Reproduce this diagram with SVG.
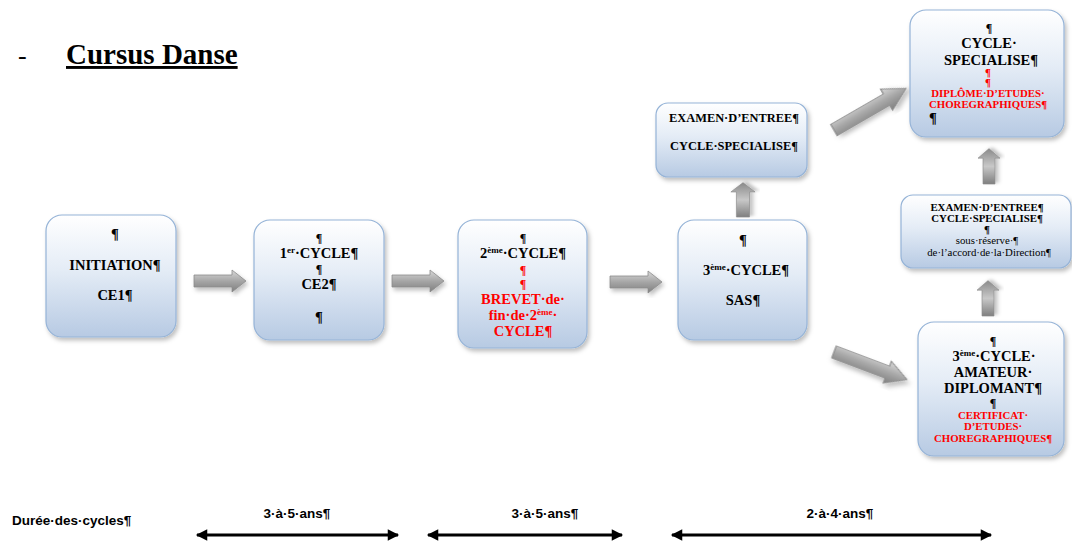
<svg xmlns="http://www.w3.org/2000/svg" width="1072" height="541" viewBox="0 0 1072 541">
<defs>
<linearGradient id="boxg" x1="0" y1="0" x2="0" y2="1">
<stop offset="0" stop-color="#ffffff"/>
<stop offset="0.45" stop-color="#e4ecf6"/>
<stop offset="1" stop-color="#b7cae3"/>
</linearGradient>
<linearGradient id="arrg" x1="0" y1="0" x2="0" y2="1">
<stop offset="0" stop-color="#d9d9d9"/>
<stop offset="0.5" stop-color="#a6a6a6"/>
<stop offset="1" stop-color="#7f7f7f"/>
</linearGradient>
<linearGradient id="arrh" x1="0" y1="0" x2="1" y2="0">
<stop offset="0" stop-color="#7f7f7f"/>
<stop offset="0.5" stop-color="#c8c8c8"/>
<stop offset="1" stop-color="#8a8a8a"/>
</linearGradient>
<filter id="sh" x="-20%" y="-20%" width="140%" height="140%">
<feDropShadow dx="2" dy="3" stdDeviation="2" flood-color="#000" flood-opacity="0.25"/>
</filter>
<marker id="mh" viewBox="0 0 10 10" refX="9" refY="5" markerWidth="4.5" markerHeight="3.8" orient="auto-start-reverse" markerUnits="strokeWidth">
<path d="M0,0 L10,5 L0,10 Z" fill="#000"/>
</marker>
<path id="barr" d="M0,-6 H38 V-11 L52,0 L38,11 V6 H0 Z"/>
</defs>
<style>
.box{fill:url(#boxg);stroke:#95b3d7;stroke-width:1.2;filter:url(#sh)}
.t{font-family:"Liberation Serif","Times New Roman",serif;font-weight:bold;font-size:14.5px;fill:#000;text-anchor:middle}
.s{font-size:12.4px}
.xs{font-size:10.8px}
.p{font-size:12px}
.n{font-weight:normal}
.r{fill:#ff0000}
.arr{stroke:#8c8c8c;stroke-width:0.8;filter:url(#sh)}
.dur{font-family:"Liberation Sans",Arial,sans-serif;font-weight:bold;font-size:13.5px;fill:#000}
.dl{stroke:#000;stroke-width:3;fill:none;marker-start:url(#mh);marker-end:url(#mh)}
</style>

<g id="title">
<text x="18" y="64" font-family="'Liberation Serif',serif" font-size="26">-</text>
<text x="66" y="64" font-family="'Liberation Serif',serif" font-weight="bold" font-size="29" text-decoration="underline">Cursus Danse</text>
</g>

<g id="connectors">
<use href="#barr" class="arr" fill="url(#arrg)" transform="translate(194,281)"/>
<use href="#barr" class="arr" fill="url(#arrg)" transform="translate(392,281)"/>
<use href="#barr" class="arr" fill="url(#arrg)" transform="translate(610,282)"/>
<use href="#barr" class="arr" fill="url(#arrh)" transform="translate(743,217) rotate(-90) scale(0.66,1.1)"/>
<use href="#barr" class="arr" fill="url(#arrh)" transform="translate(989,184) rotate(-90) scale(0.68,1)"/>
<use href="#barr" class="arr" fill="url(#arrh)" transform="translate(988,316) rotate(-90) scale(0.68,1)"/>
<use href="#barr" class="arr" fill="url(#arrg)" transform="translate(834,130) rotate(-30) scale(1.6,1.1)"/>
<use href="#barr" class="arr" fill="url(#arrg)" transform="translate(834,352) rotate(20.7) scale(1.5,1.05)"/>
</g>

<g id="n-initiation">
<rect class="box" x="46" y="215" width="130" height="122" rx="16"/>
<text class="t" x="115" y="239">¶</text>
<text class="t" x="115" y="270">INITIATION¶</text>
<text class="t" x="115" y="300">CE1¶</text>
</g>

<g id="n-cycle1">
<rect class="box" x="254" y="220" width="130" height="120" rx="16"/>
<text class="t p" x="319" y="242">¶</text>
<text class="t" x="319" y="258">1<tspan dy="-5" font-size="9">er</tspan><tspan dy="5">·CYCLE¶</tspan></text>
<text class="t p" x="319" y="273">¶</text>
<text class="t" x="319" y="289">CE2¶</text>
<text class="t" x="319" y="322">¶</text>
</g>

<g id="n-cycle2">
<rect class="box" x="458" y="220" width="129" height="128" rx="16"/>
<text class="t p" x="523" y="242">¶</text>
<text class="t" x="523" y="258">2<tspan dy="-5" font-size="9">ème</tspan><tspan dy="5">·CYCLE¶</tspan></text>
<text class="t r p" x="523" y="274">¶</text>
<text class="t r p" x="523" y="288">¶</text>
<text class="t r" x="523" y="304">BREVET·de·</text>
<text class="t r" x="523" y="320">fin·de·2<tspan dy="-5" font-size="9">ème</tspan><tspan dy="5">·</tspan></text>
<text class="t r" x="523" y="336">CYCLE¶</text>
</g>

<g id="n-cycle3">
<rect class="box" x="678" y="220" width="129" height="120" rx="16"/>
<text class="t" x="743" y="245">¶</text>
<text class="t" x="746" y="275">3<tspan dy="-5" font-size="9">ème</tspan><tspan dy="5">·CYCLE¶</tspan></text>
<text class="t" x="743" y="305">SAS¶</text>
</g>

<g id="n-examen1">
<rect class="box" x="656" y="103" width="151" height="74" rx="12"/>
<text class="t s" x="734" y="122">EXAMEN·D’ENTREE¶</text>
<text class="t s" x="734" y="150">CYCLE·SPECIALISE¶</text>
</g>

<g id="n-specialise">
<rect class="box" x="910" y="10" width="154" height="127" rx="16"/>
<text class="t p" x="989" y="32">¶</text>
<text class="t" x="989" y="48">CYCLE·</text>
<text class="t" x="991" y="65">SPECIALISE¶</text>
<text class="t xs r" x="988" y="76">¶</text>
<text class="t xs r" x="988" y="86">¶</text>
<text class="t xs r" x="988" y="97">DIPLÔME·D’ETUDES·</text>
<text class="t xs r" x="988" y="108">CHOREGRAPHIQUES¶</text>
<text class="t" x="933" y="123">¶</text>
</g>

<g id="n-examen2">
<rect class="box" x="901" y="195" width="170" height="73" rx="12"/>
<text class="t xs" x="987" y="211">EXAMEN·D’ENTREE¶</text>
<text class="t xs" x="987" y="222">CYCLE·SPECIALISE¶</text>
<text class="t xs" x="987" y="233">¶</text>
<text class="t xs n" x="987" y="244">sous·réserve·¶</text>
<text class="t xs n" x="989" y="256">de·l’accord·de·la·Direction¶</text>
</g>

<g id="n-amateur">
<rect class="box" x="918" y="322" width="146" height="134" rx="16"/>
<text class="t p" x="993" y="345">¶</text>
<text class="t" x="994" y="361">3<tspan dy="-5" font-size="9">ème</tspan><tspan dy="5">·CYCLE·</tspan></text>
<text class="t" x="993" y="377">AMATEUR·</text>
<text class="t" x="993" y="393">DIPLOMANT¶</text>
<text class="t p" x="993" y="407">¶</text>
<text class="t xs r" x="993" y="419">CERTIFICAT·</text>
<text class="t xs r" x="993" y="430">D’ETUDES·</text>
<text class="t xs r" x="993" y="442">CHOREGRAPHIQUES¶</text>
</g>

<g id="durations">
<text class="dur" x="12" y="525">Durée·des·cycles¶</text>
<text class="dur" x="297" y="518" text-anchor="middle">3·à·5·ans¶</text>
<text class="dur" x="545" y="518" text-anchor="middle">3·à·5·ans¶</text>
<text class="dur" x="840" y="518" text-anchor="middle">2·à·4·ans¶</text>
<line class="dl" x1="197" y1="535" x2="398" y2="535"/>
<line class="dl" x1="428" y1="535" x2="622" y2="535"/>
<line class="dl" x1="672" y1="535" x2="991" y2="535"/>
</g>
</svg>
